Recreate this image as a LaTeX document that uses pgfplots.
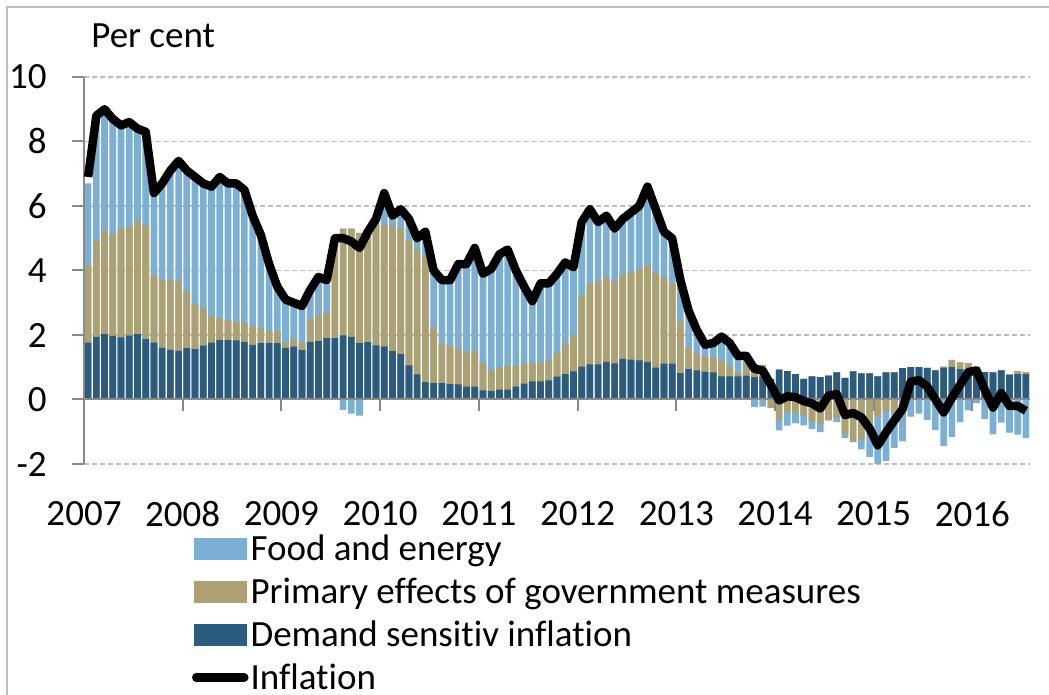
\documentclass[border=0pt]{standalone}
\usepackage{pgfplots}
\pgfplotsset{compat=1.18}
\usepackage{pgfplotstable}
\usepackage{fontspec}
\setmainfont{Carlito}[Ligatures=NoCommon]

\definecolor{food}{HTML}{7BAFD4}
\definecolor{gov}{HTML}{ADA071}
\definecolor{dem}{HTML}{2B5C80}
\definecolor{gridc}{HTML}{BFBFBF}
\definecolor{axisc}{HTML}{898989}
\newcommand\fs{\fontsize{18.5bp}{22bp}\selectfont}

% i = month index from Jan 2007; D = demand sensitive, K = government measures,
% F = food and energy, L = inflation (per cent)
\pgfplotstableread{
i D K F L
0 1.76 2.39 2.55 6.9
1 1.94 2.98 3.78 8.8
2 2.03 3.20 3.77 9.0
3 1.97 3.14 3.59 8.7
4 1.93 3.35 3.14 8.5
5 1.98 3.39 3.15 8.6
6 2.03 3.50 2.78 8.4
7 1.87 3.52 2.87 8.3
8 1.76 2.08 2.58 6.4
9 1.60 2.12 3.00 6.7
10 1.54 2.16 3.40 7.1
11 1.51 2.15 3.66 7.4
12 1.59 1.76 3.67 7.1
13 1.56 1.41 3.89 6.9
14 1.67 1.18 3.86 6.7
15 1.76 0.82 3.97 6.6
16 1.84 0.68 4.34 6.9
17 1.84 0.63 4.15 6.7
18 1.83 0.57 4.26 6.7
19 1.78 0.59 4.05 6.5
20 1.69 0.57 3.41 5.7
21 1.75 0.48 2.82 5.1
22 1.75 0.37 2.08 4.2
23 1.75 0.37 1.38 3.5
24 1.60 0.15 1.31 3.1
25 1.64 0.23 1.15 3.0
26 1.53 0.21 1.12 2.9
27 1.79 0.70 0.84 3.4
28 1.81 0.79 1.08 3.8
29 1.90 0.78 0.97 3.7
30 1.90 3.14 0.00 5.0
31 1.99 3.31 -0.32 5.0
32 1.94 3.36 -0.44 4.9
33 1.75 3.42 -0.50 4.7
34 1.78 3.34 0.08 5.2
35 1.68 3.74 0.20 5.6
36 1.65 3.77 0.88 6.4
37 1.50 3.88 0.28 5.7
38 1.41 3.91 0.58 5.9
39 1.06 3.88 0.61 5.6
40 0.78 3.90 0.32 5.0
41 0.54 3.90 0.76 5.2
42 0.51 1.71 1.80 4.0
43 0.51 1.22 1.95 3.7
44 0.48 1.19 2.03 3.7
45 0.47 1.11 2.54 4.2
46 0.40 1.07 2.71 4.2
47 0.40 1.10 3.15 4.7
48 0.28 0.86 2.78 3.9
49 0.26 0.64 3.12 4.05
50 0.31 0.68 3.46 4.5
51 0.31 0.73 3.56 4.65
52 0.40 0.64 2.94 4.0
53 0.49 0.60 2.43 3.5
54 0.56 0.56 1.98 3.05
55 0.56 0.57 2.43 3.6
56 0.59 0.62 2.37 3.6
57 0.71 0.73 2.41 3.9
58 0.79 0.93 2.48 4.25
59 0.87 1.12 2.06 4.1
60 1.02 2.21 2.12 5.5
61 1.09 2.50 2.21 5.9
62 1.09 2.58 1.78 5.5
63 1.17 2.61 1.82 5.7
64 1.12 2.55 1.53 5.3
65 1.26 2.59 1.65 5.6
66 1.24 2.71 1.75 5.8
67 1.21 2.83 1.91 6.0
68 1.16 3.00 2.29 6.6
69 0.99 2.93 1.88 5.9
70 1.11 2.67 1.32 5.2
71 1.11 2.48 1.31 5.0
72 0.82 1.60 1.20 3.7
73 0.94 0.66 1.05 2.75
74 0.90 0.54 0.61 2.15
75 0.86 0.48 0.31 1.7
76 0.84 0.47 0.39 1.75
77 0.72 0.49 0.69 1.95
78 0.72 0.32 0.66 1.75
79 0.72 0.11 0.42 1.35
80 0.74 0.36 0.12 1.35
81 0.69 0.41 -0.24 0.95
82 0.72 0.35 -0.22 0.9
83 0.64 -0.26 0.00 0.45
84 0.93 -0.63 -0.33 -0.03
85 0.88 -0.39 -0.42 0.1
86 0.79 -0.41 -0.33 0.07
87 0.64 -0.50 -0.30 -0.05
88 0.72 -0.71 -0.20 -0.12
89 0.69 -0.75 -0.26 -0.28
90 0.74 -0.65 0.00 0.12
91 0.84 -0.55 -0.14 0.17
92 0.67 -1.06 -0.13 -0.48
93 0.87 -1.32 0.00 -0.42
94 0.81 -1.25 -0.30 -0.55
95 0.81 -0.67 -1.11 -0.9
96 0.72 -0.53 -1.57 -1.42
97 0.84 -0.37 -1.53 -1.02
98 0.84 -0.37 -1.13 -0.65
99 0.97 -0.05 -1.25 -0.3
100 1.00 0.00 -0.53 0.55
101 1.00 0.00 -0.44 0.6
102 0.98 0.00 -0.63 0.4
103 0.90 0.00 -0.94 0.0
104 0.98 0.04 -1.44 -0.4
105 1.00 0.23 -1.16 0.05
106 0.94 0.21 -0.70 0.45
107 0.95 0.18 -0.34 0.85
108 1.00 0.00 -0.11 0.9
109 0.85 0.00 -0.60 0.3
110 0.84 0.00 -1.08 -0.25
111 0.90 0.00 -0.72 0.2
112 0.77 0.00 -1.03 -0.2
113 0.79 0.09 -1.09 -0.2
114 0.79 0.06 -1.20 -0.35
}\data

\begin{document}
\begin{tikzpicture}
\useasboundingbox (0,0) rectangle (524.5bp,347.5bp);
\draw[gridc, line width=0.75bp] (3.5bp,0) -- (3.5bp,344bp) -- (524.5bp,344bp);
\node[anchor=base west, inner sep=0pt, font=\fs] at (45.5bp,323.5bp) {Per cent};
\begin{axis}[
    at={(42bp,115.5bp)}, anchor=south west,
    scale only axis, width=473bp, height=193.5bp,
    xmin=-0.5, xmax=114.5, ymin=-2, ymax=10,
    axis y line*=left, axis x line*=bottom,
    x axis line style={draw=none},
    y axis line style={axisc, line width=1bp},
    xtick={-0.5,11.5,23.5,35.5,47.5,59.5,71.5,83.5,95.5,107.5},
    xticklabels={2007,2008,2009,2010,2011,2012,2013,2014,2015,2016},
    xtick style={draw=none},
    ytick={-2,0,2,4,6,8,10},
    yticklabels={-2,0,2,4,6,8,10},
    ytick style={axisc, line width=1bp},
    tick align=outside, major tick length=6bp,
    ymajorgrids,
    grid style={gridc, line width=0.75bp, dash pattern=on 2.5bp off 1.5bp},
    tick label style={font=\fs},
    xticklabel style={anchor=north, inner sep=0pt, yshift=-12.5bp},
    yticklabel style={anchor=east, inner sep=0pt, xshift=-12.5bp},
    legend cell align=left,
    legend style={at={(0.11416,-0.1822)}, anchor=north west,
        draw=none, fill=none, inner sep=0pt, outer sep=0pt,
        row sep=7.5bp, column sep=1bp, font=\fs,
        nodes={inner sep=0pt, text height=13bp, text depth=1bp}},
    ]
\addlegendimage{legend image code/.code={\fill[food] (0bp,-5.25bp) rectangle (26bp,5.25bp);}}
\addlegendentry{Food and energy}
\addlegendimage{legend image code/.code={\fill[gov] (0bp,-5.25bp) rectangle (26bp,5.25bp);}}
\addlegendentry{Primary effects of government measures}
\addlegendimage{legend image code/.code={\fill[dem] (0bp,-5.25bp) rectangle (26bp,5.25bp);}}
\addlegendentry{Demand sensitiv inflation}
\addlegendimage{legend image code/.code={\draw[black, line width=4.25bp, line cap=round] (1bp,0bp) -- (25bp,0bp);}}
\addlegendentry{Inflation}

% positive stack, drawn as overlapping cumulative bars
\addplot[ybar, bar width=0.81, bar shift=0pt, fill=food, draw=none, forget plot]
    table[x=i, y expr={\thisrow{D}+max(\thisrow{K},0)+max(\thisrow{F},0)}] {\data};
\addplot[ybar, bar width=0.81, bar shift=0pt, fill=gov, draw=none, forget plot]
    table[x=i, y expr={\thisrow{D}+max(\thisrow{K},0)}] {\data};
\addplot[ybar, bar width=0.81, bar shift=0pt, fill=dem, draw=none, forget plot]
    table[x=i, y=D] {\data};
% negative stack
\addplot[ybar, bar width=0.81, bar shift=0pt, fill=food, draw=none, forget plot]
    table[x=i, y expr={min(\thisrow{K},0)+min(\thisrow{F},0)}] {\data};
\addplot[ybar, bar width=0.81, bar shift=0pt, fill=gov, draw=none, forget plot]
    table[x=i, y expr={min(\thisrow{K},0)}] {\data};

\draw[axisc, line width=1bp] (axis cs:-0.5,0) -- (axis cs:114.5,0);
\pgfplotsinvokeforeach{11.5,23.5,35.5,47.5,59.5,71.5,83.5,95.5,107.5}{
    \draw[axisc, line width=1bp] (axis cs:#1,0) -- ([yshift=-6bp]axis cs:#1,0);
}

\addplot[black, line width=4.25bp, line join=round, forget plot]
    table[x=i, y=L] {\data};
\end{axis}
\end{tikzpicture}
\end{document}
